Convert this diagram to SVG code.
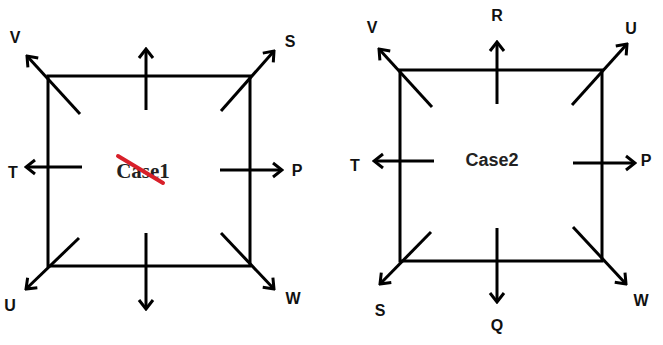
<svg xmlns="http://www.w3.org/2000/svg" width="663" height="345" viewBox="0 0 663 345">
<style>
.box{fill:none;stroke:#000;stroke-width:3}
.ar{fill:none;stroke:#000;stroke-width:3;marker-end:url(#ah)}
.lb{font-family:"Liberation Sans",Arial,sans-serif;font-weight:bold;font-size:16px;fill:#111;text-anchor:middle;dominant-baseline:central}
.c1{font-family:"Liberation Serif",serif;font-weight:bold;font-size:21px;fill:#222;text-anchor:middle;dominant-baseline:central}
.c2{font-family:"Liberation Sans",Arial,sans-serif;font-weight:bold;font-size:18px;fill:#222;text-anchor:middle;dominant-baseline:central}
</style>
<defs>
<marker id="ah" viewBox="-12 -9 14 18" markerWidth="14" markerHeight="18" refX="0" refY="0" orient="auto" markerUnits="userSpaceOnUse">
<path d="M-9,-7 L0,0 L-9,7" fill="none" stroke="#000" stroke-width="3"/>
</marker>
</defs>
<rect width="663" height="345" fill="#fff"/>
<g id="case1">
<rect class="box" x="48" y="76" width="202" height="190"/>
<text class="c1" x="143" y="171">Case1</text>
<line x1="118" y1="156" x2="163" y2="183" stroke="#d8202a" stroke-width="4" stroke-linecap="round"/>
</g>
<g id="case2">
<rect class="box" x="400" y="70" width="202" height="191"/>
<text class="c2" x="492" y="160">Case2</text>
</g>
<g id="connectors">
<line class="ar" x1="80" y1="114" x2="27" y2="56"/>
<line class="ar" x1="146" y1="110" x2="146" y2="49"/>
<line class="ar" x1="221" y1="111" x2="274" y2="51"/>
<line class="ar" x1="82" y1="167" x2="26" y2="167"/>
<line class="ar" x1="220" y1="170" x2="282" y2="170"/>
<line class="ar" x1="79" y1="238" x2="26" y2="289"/>
<line class="ar" x1="146" y1="233" x2="146" y2="309"/>
<line class="ar" x1="221" y1="233" x2="274" y2="289"/>
<line class="ar" x1="432" y1="107" x2="379" y2="49"/>
<line class="ar" x1="497" y1="104" x2="497" y2="42"/>
<line class="ar" x1="572" y1="105" x2="627" y2="44"/>
<line class="ar" x1="434" y1="161" x2="374" y2="161"/>
<line class="ar" x1="573" y1="163" x2="635" y2="163"/>
<line class="ar" x1="431" y1="232" x2="380" y2="284"/>
<line class="ar" x1="497" y1="228" x2="497" y2="302"/>
<line class="ar" x1="573" y1="227" x2="626" y2="284"/>
</g>
<g id="labels1">
<text class="lb" x="15" y="37">V</text>
<text class="lb" x="290" y="41">S</text>
<text class="lb" x="13" y="172">T</text>
<text class="lb" x="297" y="170">P</text>
<text class="lb" x="10" y="305">U</text>
<text class="lb" x="293" y="298">W</text>
</g>
<g id="labels2">
<text class="lb" x="497" y="15">R</text>
<text class="lb" x="372" y="27">V</text>
<text class="lb" x="631" y="28">U</text>
<text class="lb" x="355" y="165">T</text>
<text class="lb" x="646" y="160">P</text>
<text class="lb" x="380" y="310">S</text>
<text class="lb" x="497" y="325">Q</text>
<text class="lb" x="641" y="300">W</text>
</g>
</svg>
